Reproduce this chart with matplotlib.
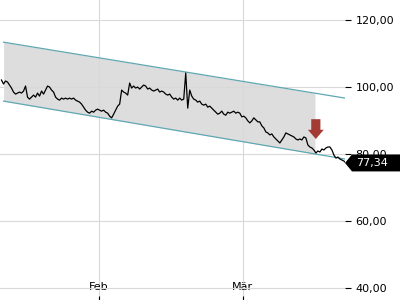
import pandas as pd
import numpy as np
import matplotlib
matplotlib.use("Agg")
import matplotlib.pyplot as plt
import matplotlib.dates as mdates
from matplotlib.patches import Polygon

# price series (intraday samples)
prices = [102.1, 100.9, 101.8, 101.5, 100.6, 99.7, 98.5, 97.9, 98.2, 98.5,
          98.2, 98.8, 100.3, 97.0, 96.4, 97.0, 97.6, 97.0, 98.2, 97.3,
          98.8, 97.9, 99.1, 100.3, 100.0, 99.1, 98.5, 97.0, 96.4, 96.1,
          96.7, 96.4, 96.7, 96.4, 96.7, 96.4, 96.7, 96.1, 95.8, 95.5,
          94.9, 94.0, 93.1, 92.5, 92.2, 92.8, 92.5, 93.1, 93.4, 93.1,
          92.8, 93.1, 92.5, 92.2, 91.3, 90.8, 91.9, 93.1, 94.3, 94.9,
          99.1, 98.5, 98.2, 97.6, 101.2, 99.7, 100.3, 99.7, 100.0, 99.4,
          100.0, 100.6, 100.3, 99.4, 99.7, 99.1, 98.8, 99.1, 99.4, 98.5,
          98.8, 98.5, 97.9, 97.6, 97.9, 97.0, 96.4, 96.7, 96.1, 96.7,
          96.1, 96.4, 104.2, 93.7, 99.1, 97.3, 96.4, 96.1, 95.5, 95.8,
          94.9, 94.6, 94.9, 94.0, 94.3, 93.7, 93.1, 92.5, 91.9, 92.2,
          92.8, 91.9, 91.6, 92.5, 92.2, 92.5, 92.8, 92.2, 92.5, 92.2,
          91.1, 91.3, 90.8, 89.9, 89.3, 89.9, 90.8, 90.2, 89.6, 89.6,
          88.4, 87.8, 86.6, 86.3, 85.7, 86.0, 85.1, 84.5, 83.9, 83.3,
          84.2, 85.1, 86.3, 86.0, 85.7, 85.4, 85.1, 84.5, 84.2, 84.5,
          84.2, 85.1, 84.8, 82.7, 82.1, 81.8, 81.2, 80.3, 80.9, 80.6,
          81.5, 81.2, 81.8, 82.1, 82.1, 81.2, 79.7, 78.8, 79.1, 78.5,
          78.2, 77.9, 77.34]
times = pd.date_range("2025-01-13 03:00", periods=len(prices), freq="560min")

# trend channel
channel_start = pd.Timestamp("2025-01-13 12:40")
channel_end = pd.Timestamp("2025-03-20 20:00")
fill_end = pd.Timestamp("2025-03-15 00:00")
upper = [113.4, 96.7]
lower = [95.8, 78.5]

# signal arrow
arrow_time = pd.Timestamp("2025-03-15 04:00")
arrow_from = 90.4
arrow_to = 84.5

last_price = prices[-1]
last_label = "77,34"

fig = plt.figure(figsize=(4, 3), dpi=100)
ax = fig.add_axes([0, 0, 345 / 400, 1])

# channel fill up to fill_end
cx = mdates.date2num([channel_start, channel_end])
fx = np.linspace(cx[0], mdates.date2num(fill_end), 50)
fu = np.interp(fx, cx, upper)
fl = np.interp(fx, cx, lower)
ax.fill_between(fx, fl, fu, color="#dddddd", zorder=1, lw=0)
ax.plot([channel_start, channel_end], upper, color="#5fa8b2", lw=0.9, zorder=2)
ax.plot([channel_start, channel_end], lower, color="#5fa8b2", lw=0.9, zorder=2)

ax.plot(times, prices, color="black", lw=0.9, zorder=3)

ax.annotate("", xy=(arrow_time, arrow_to), xytext=(arrow_time, arrow_from),
            arrowprops=dict(arrowstyle="simple,head_width=0.95,head_length=0.55,tail_width=0.55",
                            mutation_scale=12, color="#a33a33", lw=0,
                            shrinkA=0, shrinkB=0),
            zorder=4)

ax.set_ylim(36.4, 126)
ax.set_xlim(pd.Timestamp("2025-01-12 20:00"), pd.Timestamp("2025-03-20 20:00"))

ax.set_yticks([40, 60, 80, 100, 120])
ax.set_yticklabels(["40,00", "60,00", "80,00", "100,00", "120,00"])
ax.yaxis.tick_right()
ax.tick_params(axis="y", length=4.5, width=0.8, pad=3, labelsize=8, colors="black")

ax.set_xticks([pd.Timestamp("2025-02-01"), pd.Timestamp("2025-03-01")])
ax.set_xticklabels(["Feb", "Mär"])
ax.tick_params(axis="x", direction="in", length=3, width=0.8, pad=-13, labelsize=8)

ax.grid(True, color="#d9d9d9", lw=0.8)
ax.set_axisbelow("line")
for s in ax.spines.values():
    s.set_visible(False)

# last price tag
fig.canvas.draw()
yc = ax.transData.transform((0, last_price))[1] / 300
h = 8.5 / 300
tag = Polygon([(345 / 400, yc), (352 / 400, yc + h), (1.0, yc + h),
               (1.0, yc - h), (352 / 400, yc - h)],
              closed=True, transform=fig.transFigure, facecolor="black",
              edgecolor="none", zorder=5)
fig.patches.append(tag)
fig.text(356 / 400, yc, last_label, color="white", fontsize=8, va="center",
         ha="left", zorder=6)

fig.savefig("out.png", dpi=100)
